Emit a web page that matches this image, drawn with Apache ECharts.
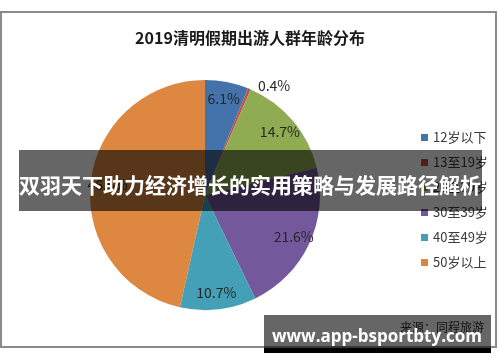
<!DOCTYPE html>
<html><head><meta charset="utf-8">
<script src="https://cdn.jsdelivr.net/npm/echarts@6/dist/echarts.min.js"></script>
<style>html,body{margin:0;padding:0;background:#fff}#c{width:500px;height:362px}</style>
</head><body><div id="c"></div>
<script>
var title = '2019清明假期出游人群年龄分布';
var categories = ['12岁以下', '13至19岁', '20至29岁', '30至39岁', '40至49岁', '50岁以上'];
var values = [6.1, 0.4, 14.7, 21.6, 10.7, 46.5];
var colors = ['#4473ab', '#c0504d', '#8fac52', '#73599b', '#43a0b6', '#dd8740'];
var bannerText = '双羽天下助力经济增长的实用策略与发展路径解析';
var sourceText = '来源：同程旅游';
var siteText = 'www.app-bsportbty.com';

var FONT = '"Noto Sans CJK SC", "Noto Sans", sans-serif';
var chart = echarts.init(document.getElementById('c'));

var mainData = categories.map(function (n, i) {
  return { name: n, value: values[i], itemStyle: { color: colors[i] } };
});
var labelData = categories.map(function (n, i) {
  var d = { name: n, value: values[i] };
  if (values[i] < 1) {
    d.label = { position: 'outside' };
    d.labelLine = { show: false, length: 4, length2: 2 };
  }
  return d;
});

chart.setOption({
  animation: false,
  title: {
    text: title, left: 'center', top: 25,
    textStyle: { fontFamily: FONT, fontSize: 16, fontWeight: 'bold', color: '#1a1a1a' }
  },
  legend: {
    orient: 'vertical', left: 416, top: 126,
    itemWidth: 7, itemHeight: 7, itemGap: 12, icon: 'rect',
    data: categories.map(function (n, i) { return { name: n, itemStyle: { color: colors[i] } }; }),
    textStyle: { fontFamily: FONT, fontSize: 13, color: '#3a3a3a' },
    selectedMode: false
  },
  series: [
    {
      type: 'pie', center: [205, 195], radius: [0, 115], startAngle: 90, clockwise: true,
      label: { show: false }, labelLine: { show: false },
      itemStyle: { borderWidth: 0 }, silent: true,
      data: mainData
    },
    {
      type: 'pie', center: [205, 195], radius: [75, 115], startAngle: 90, clockwise: true,
      silent: true, z: 3,
      itemStyle: { color: 'rgba(0,0,0,0)', borderWidth: 0 },
      label: {
        show: true, position: 'inside',
        formatter: function (p) { return p.value.toFixed(1) + '%'; },
        fontFamily: FONT, fontSize: 14, color: '#262626'
      },
      labelLine: { show: false },
      data: labelData
    }
  ],
  graphic: [
    { type: 'rect', shape: { x: 1, y: 12, width: 495, height: 335 }, style: { fill: 'none', stroke: '#8a8a8a', lineWidth: 2 }, z: 1 },
    { type: 'text', x: 400, y: 327, style: { text: sourceText, font: '12px ' + FONT, fill: '#333', textVerticalAlign: 'middle' }, z: 5 },
    { type: 'rect', shape: { x: 19, y: 150, width: 463, height: 61 }, style: { fill: 'rgba(0,0,0,0.6)' }, z: 10 },
    { type: 'text', x: 19, y: 185, style: { text: bannerText, font: 'bold 21px ' + FONT, fill: '#fff', textVerticalAlign: 'middle' }, z: 11 },
    { type: 'rect', shape: { x: 264, y: 315, width: 227, height: 33 }, style: { fill: 'rgba(0,0,0,0.6)' }, z: 10 },
    { type: 'rect', shape: { x: 264, y: 348, width: 227, height: 5 }, style: { fill: '#000' }, z: 10 },
    { type: 'text', x: 377, y: 337, style: { text: siteText, font: 'bold 17px "Open Sans", "DejaVu Sans", sans-serif', fill: '#fff', textAlign: 'center', textVerticalAlign: 'middle' }, z: 11 }
  ]
});
</script></body></html>
